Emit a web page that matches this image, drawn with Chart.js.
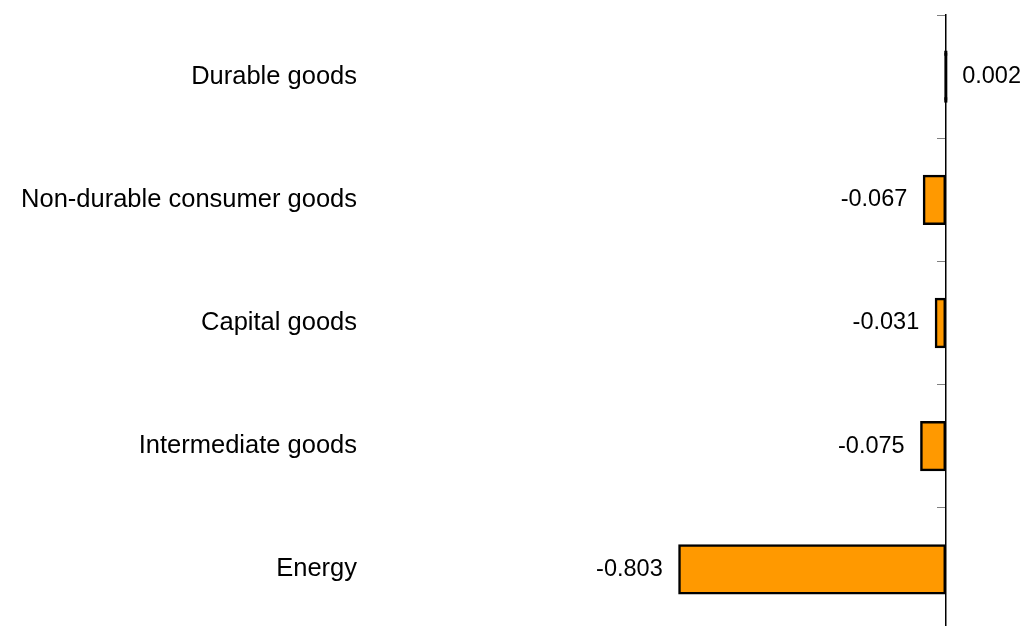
<!DOCTYPE html>
<html>
<head>
<meta charset="utf-8">
<script src="https://cdn.jsdelivr.net/npm/chart.js@4/dist/chart.umd.min.js"></script>
<style>
  html, body { margin: 0; padding: 0; background: #fff; overflow: hidden; }
  #wrap { width: 1023px; height: 626px; overflow: hidden; }
</style>
</head>
<body>
<div id="wrap"><canvas id="myChart" width="1023" height="640"></canvas></div>
<script>
var categories = ['Durable goods', 'Non-durable consumer goods', 'Capital goods', 'Intermediate goods', 'Energy'];
var values = [0.002, -0.067, -0.031, -0.075, -0.803];
var xMin = -1.75;
var xMax = 0.2;

// value labels next to each bar
var valueLabels = {
    id: 'valueLabels',
    afterDatasetsDraw: function(chart) {
        var c = chart.ctx;
        var meta = chart.getDatasetMeta(0);
        c.save();
        c.font = '23.5px "Liberation Sans", Arial, sans-serif';
        c.fillStyle = '#000';
        c.textBaseline = 'middle';
        meta.data.forEach(function(bar, i) {
            var v = values[i];
            var txt = v.toFixed(3);
            if (v < 0) {
                c.textAlign = 'right';
                c.fillText(txt, Math.min(bar.x, bar.base) - 16, bar.y);
            } else {
                c.textAlign = 'left';
                c.fillText(txt, Math.max(bar.x, bar.base) + 16, bar.y);
            }
        });
        c.restore();
    }
};

function tiny(c) { return Math.abs(values[c.dataIndex]) < 0.01; }

var ctx = document.getElementById('myChart').getContext('2d');
var myChart = new Chart(ctx, {
    type: 'bar',
    data: {
        labels: categories,
        datasets: [{
            data: values,
            backgroundColor: function(c) { return tiny(c) ? '#000' : '#FF9900'; },
            borderColor: '#000',
            borderWidth: 2.5,
            borderSkipped: false,
            inflateAmount: function(c) { return tiny(c) ? 1.4 : 0.5; },
            barPercentage: 0.4,
            categoryPercentage: 1.0
        }]
    },
    options: {
        indexAxis: 'y',
        responsive: false,
        animation: false,
        layout: { padding: { top: 15, bottom: 9, left: 0, right: 11 } },
        plugins: {
            legend: { display: false },
            tooltip: { enabled: false }
        },
        scales: {
            x: {
                display: false,
                min: xMin,
                max: xMax
            },
            y: {
                position: 'left',
                offset: true,
                grid: { display: false, drawTicks: false },
                border: { display: false },
                ticks: {
                    padding: 7,
                    color: '#000',
                    font: { family: '"Liberation Sans", Arial, sans-serif', size: 25.5 }
                },
                afterFit: function(scale) {
                    scale.width = 364;
                    scale.paddingTop = 0;
                    scale.paddingBottom = 0;
                }
            },
            y2: {
                type: 'category',
                axis: 'y',
                position: { x: 0 },
                offset: true,
                grid: { offset: true, drawOnChartArea: false, tickLength: 8, color: '#808080', lineWidth: 1 },
                border: { display: true, color: '#000', width: 1.5 },
                ticks: { display: false }
            }
        }
    },
    plugins: [valueLabels]
});
</script>
</body>
</html>
